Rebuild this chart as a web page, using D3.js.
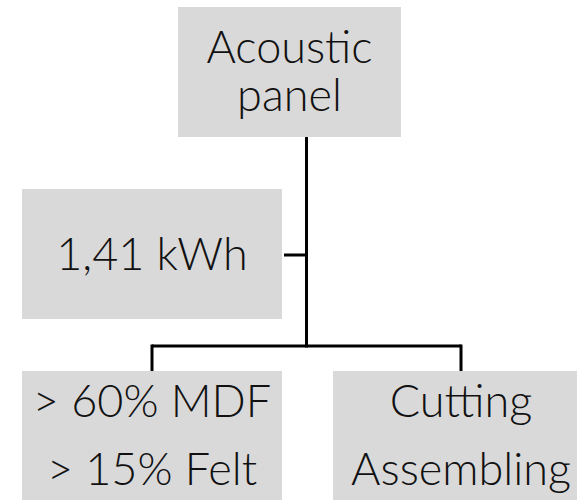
<!DOCTYPE html>
<html><head><meta charset="utf-8">
<script src="https://cdn.jsdelivr.net/npm/d3@7"></script>
<style>html,body{margin:0;padding:0;background:#fff;overflow:hidden}svg{display:block}</style>
</head><body>
<script>
const rootLabel = ["Acoustic", "panel"];
const energyLabel = ["1,41 kWh"];
const children = ["materials", "process"];
const childLabels = [["> 60% MDF", "> 15% Felt"], ["Cutting", "Assembling"]];

const W = 577, H = 500;
const svg = d3.select("body").append("svg").attr("width", W).attr("height", H);
const font = "'Lato Light', Lato, sans-serif";
const fs = 45;

const x = d3.scalePoint().domain(children).range([152, 461]);
const cx = (x(children[0]) + x(children[1])) / 2;

const boxFill = "#d9d9d9";
const lineCol = "#000";

// root box
svg.append("rect").attr("x", 178).attr("y", 7).attr("width", 223).attr("height", 130).attr("fill", boxFill);
svg.append("g").selectAll("text").data(rootLabel).join("text")
  .attr("x", 289.5).attr("y", (d, i) => 63 + i * 48)
  .attr("text-anchor", "middle").attr("font-family", font).attr("font-weight", 300)
  .attr("font-size", fs).attr("fill", "#111").text(d => d);

// energy box
svg.append("rect").attr("x", 22).attr("y", 189).attr("width", 260).attr("height", 130).attr("fill", boxFill);
svg.append("g").selectAll("text").data(energyLabel).join("text")
  .attr("x", 152).attr("y", 270)
  .attr("text-anchor", "middle").attr("font-family", font).attr("font-weight", 300)
  .attr("font-size", fs).attr("fill", "#111").text(d => d);

// lines
const lines = svg.append("g").attr("stroke", lineCol).attr("stroke-width", 3).attr("fill", "none");
lines.append("line").attr("x1", cx).attr("x2", cx).attr("y1", 137).attr("y2", 347.5);
lines.append("line").attr("x1", 284).attr("x2", cx).attr("y1", 255).attr("y2", 255);
lines.append("line").attr("x1", x(children[0])).attr("x2", x(children[1])).attr("y1", 346).attr("y2", 346);
lines.selectAll("line.drop").data(children).join("line").attr("class", "drop")
  .attr("x1", d => x(d)).attr("x2", d => x(d)).attr("y1", 344.5).attr("y2", 371);

// child boxes
const cg = svg.append("g").selectAll("g").data(children).join("g");
cg.append("rect").attr("x", (d, i) => i === 0 ? 22 : 333).attr("y", 371).attr("width", 260).attr("height", 130).attr("fill", boxFill);
cg.each(function(d, i) {
  d3.select(this).selectAll("text").data(childLabels[i]).join("text")
    .attr("x", x(d)).attr("y", (t, j) => 417 + j * 68)
    .attr("text-anchor", "middle").attr("font-family", font).attr("font-weight", 300)
    .attr("font-size", fs).attr("fill", "#111").text(t => t);
});
</script>
</body></html>
